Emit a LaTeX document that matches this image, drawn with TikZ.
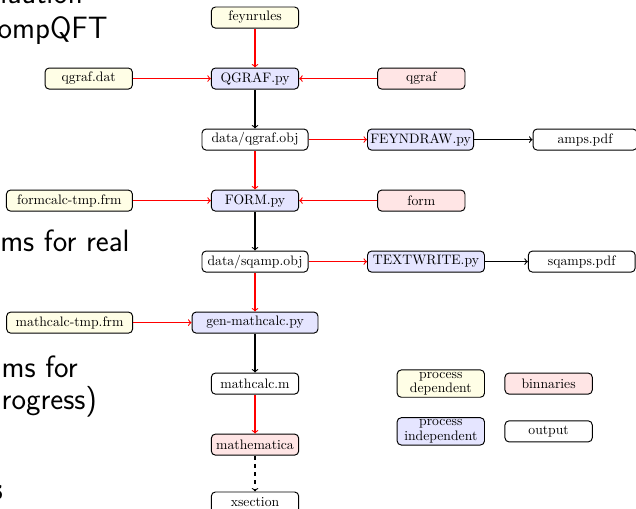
\documentclass[tikz,border=0pt]{standalone}
\usetikzlibrary{positioning}

\begin{document}
\begin{tikzpicture}[
    box/.style={rectangle, rounded corners=3pt, draw=black, line width=0.7pt, minimum width=2.24cm, minimum height=0.54cm, inner xsep=1pt, inner ysep=1.5pt, font=\fontsize{10}{10.5}\selectfont},
    depbox/.style={box, fill=yellow!10},
    indepbox/.style={box, fill=blue!10},
    binbox/.style={box, fill=red!10},
    outbox/.style={box, fill=white},
    wide/.style={minimum width=2.72cm},
    wider/.style={minimum width=3.23cm},
    inarrow/.style={->, line width=0.8pt, red},
    outarrow/.style={->, line width=0.8pt, black},
    slidetext/.style={anchor=base east, inner sep=0pt, font=\fontsize{22.5}{27}\sffamily}
]
    \useasboundingbox (0,0) rectangle (16.31,-13.05);

    % slide text behind the chart
    \node (txtone) [slidetext] at (2.13,-0.08) {aluation};
    \node (txttwo) [slidetext] at (2.77,-1.0) {ompQFT};
    \node (txtthree) [slidetext] at (3.33,-6.46) {ms for real};
    \node (txtfour) [slidetext] at (2.0,-9.67) {ms for};
    \node (txtfive) [slidetext] at (2.49,-10.51) {rogress)};
    \node (txtsix) [slidetext, font=\fontsize{22.5}{27}\sffamily\bfseries] at (0.08,-12.82) {s};

    % main chain
    \node (feynrules) [depbox] at (6.54,-0.45) {feynrules};
    \node (qgrafpy) [indepbox, below = 1cm of feynrules] {QGRAF.py};
    \node (qgrafobj) [outbox, wide, below = 1cm of qgrafpy] {data/qgraf.obj};
    \node (formpy) [indepbox, below = 1cm of qgrafobj] {FORM.py};
    \node (sqampobj) [outbox, wide, below = 1cm of formpy] {data/sqamp.obj};
    \node (genmath) [indepbox, wider, below = 1cm of sqampobj] {gen-mathcalc.py};
    \node (mathcalc) [outbox, below = 1cm of genmath] {mathcalc.m};
    \node (mathematica) [binbox, below = 1cm of mathcalc] {mathematica};
    \node (xsection) [outbox, below = 0.92cm of mathematica] {xsection};

    % inputs
    \node (qgrafdat) [depbox, left = 2cm of qgrafpy] {qgraf.dat};
    \node (qgraf) [binbox, right = 2cm of qgrafpy] {qgraf};
    \node (formcalc) [depbox, wider, left = 2cm of formpy] {formcalc-tmp.frm};
    \node (form) [binbox, right = 2cm of formpy] {form};
    \node (mathtmp) [depbox, wider, left = 1.5cm of genmath] {mathcalc-tmp.frm};

    % drawing branches
    \node (feyndraw) [indepbox, wide, right = 1.5cm of qgrafobj] {FEYNDRAW.py};
    \node (amps) [outbox, minimum width=2.67cm, right = 1.5cm of feyndraw] {amps.pdf};
    \node (textwrite) [indepbox, minimum width=3cm, right = 1.5cm of sqampobj] {TEXTWRITE.py};
    \node (sqamps) [outbox, minimum width=2.74cm, right = 1.1cm of textwrite] {sqamps.pdf};

    % legend
    \node (legdep) [depbox, align=center, right = 2.5cm of mathcalc] {process\\dependent};
    \node (legbin) [binbox, right = 0.5cm of legdep] {binnaries};
    \node (legindep) [indepbox, align=center, below = 0.5cm of legdep] {process\\independent};
    \node (legout) [outbox, right = 0.5cm of legindep] {output};

    \draw [inarrow] (feynrules) -- (qgrafpy);
    \draw [inarrow] (qgrafdat) -- (qgrafpy);
    \draw [inarrow] (qgraf) -- (qgrafpy);
    \draw [outarrow] (qgrafpy) -- (qgrafobj);
    \draw [inarrow] (qgrafobj) -- (feyndraw);
    \draw [outarrow] (feyndraw) -- (amps);
    \draw [inarrow] (qgrafobj) -- (formpy);
    \draw [inarrow] (formcalc) -- (formpy);
    \draw [inarrow] (form) -- (formpy);
    \draw [outarrow] (formpy) -- (sqampobj);
    \draw [inarrow] (sqampobj) -- (textwrite);
    \draw [outarrow] (textwrite) -- (sqamps);
    \draw [inarrow] (sqampobj) -- (genmath);
    \draw [inarrow] (mathtmp) -- (genmath);
    \draw [outarrow] (genmath) -- (mathcalc);
    \draw [inarrow] (mathcalc) -- (mathematica);
    \draw [outarrow, dashed] (mathematica) -- (xsection);
\end{tikzpicture}
\end{document}
